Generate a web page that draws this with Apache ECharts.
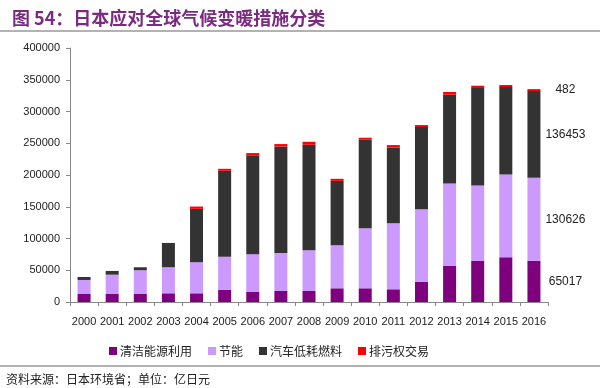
<!DOCTYPE html>
<html>
<head>
<meta charset="utf-8">
<script src="https://cdn.jsdelivr.net/npm/echarts@6/dist/echarts.min.js"></script>
<style>
html,body{margin:0;padding:0;background:#fff;}
#c{width:600px;height:388px;}
</style>
</head>
<body>
<div id="c"></div>
<script>
const years = ['2000','2001','2002','2003','2004','2005','2006','2007','2008','2009','2010','2011','2012','2013','2014','2015','2016'];
const cleanEnergy = [12600,12600,12600,13700,13700,19400,16300,17300,17300,21600,21600,20000,32000,57200,65100,70500,65017];
const energySaving = [22100,30400,37400,41000,48900,52000,58900,60000,64200,67800,94600,104100,114200,129400,118300,130300,130626];
const lowFuelCars = [4700,5900,4700,38300,84100,135200,155000,167600,166100,101400,139300,119200,129300,139800,153600,137800,136453];
const emissionsTrading = [null,null,null,null,3600,2700,4300,3800,4700,3200,2600,3800,3100,4300,3600,3100,482];
const seriesNames = ['清洁能源利用','节能','汽车低耗燃料','排污权交易'];
const yTicks = {min:0, max:400000, interval:50000};

const colors = ['#7f007f','#cc99ff','#333333','#ff0000'];
const dataSets = [cleanEnergy, energySaving, lowFuelCars, emissionsTrading];
const lastIdx = years.length - 1;

const series = dataSets.map((arr, si) => ({
  name: seriesNames[si],
  type: 'bar',
  stack: 'total',
  barWidth: 13,
  barMinHeight: si === 3 ? 2 : 0,
  itemStyle: {color: colors[si]},
  data: arr.map((v, i) => {
    if (i === lastIdx) {
      return {
        value: v,
        label: {
          show: true,
          position: [38, '50%'],
          align: 'center',
          verticalAlign: 'middle',
          formatter: String(v),
          color: '#222',
          fontSize: 12,
          fontFamily: 'Arial, Liberation Sans, sans-serif'
        }
      };
    }
    return v;
  })
}));

const chart = echarts.init(document.getElementById('c'));
chart.setOption({
  backgroundColor: '#fff',
  animation: false,
  title: {
    text: '图 54：日本应对全球气候变暖措施分类',
    left: 7, top: 4,
    textStyle: {color: '#7a2a80', fontSize: 18, fontWeight: 'bold', fontFamily: 'Noto Sans CJK SC, sans-serif'}
  },
  grid: {left: 70, right: 52, top: 48, bottom: 86, containLabel: false},
  legend: {
    bottom: 26,
    left: 104,
    itemWidth: 8, itemHeight: 8, itemGap: 16,
    icon: 'rect',
    textStyle: {fontSize: 12, color: '#222', fontFamily: 'Noto Sans CJK SC, sans-serif', padding: [0,0,0,-2]},
    data: seriesNames
  },
  xAxis: {
    type: 'category',
    data: years,
    axisLine: {lineStyle: {color: '#888'}},
    axisTick: {show: true, alignWithLabel: false, length: 4, lineStyle: {color: '#888'}},
    axisLabel: {color: '#222', fontSize: 11, margin: 14, interval: 0, fontFamily: 'Arial, Liberation Sans, sans-serif'}
  },
  yAxis: {
    type: 'value',
    min: yTicks.min, max: yTicks.max, interval: yTicks.interval,
    splitLine: {show: false},
    axisLine: {show: true, lineStyle: {color: '#888'}},
    axisTick: {show: true, length: 4, lineStyle: {color: '#888'}},
    axisLabel: {color: '#222', fontSize: 11, margin: 10, formatter: v => String(v), fontFamily: 'Arial, Liberation Sans, sans-serif'}
  },
  graphic: [
    {type: 'line', shape: {x1: 0, y1: 31, x2: 600, y2: 31}, style: {stroke: '#999', lineWidth: 1.5}},
    {type: 'line', shape: {x1: 0, y1: 366, x2: 600, y2: 366}, style: {stroke: '#999', lineWidth: 1.5}},
    {type: 'text', left: 6, top: 373, style: {text: '资料来源：日本环境省；单位：亿日元', fill: '#222', font: '12px "Noto Sans CJK SC", sans-serif'}}
  ],
  series: series
});
</script>
</body>
</html>
